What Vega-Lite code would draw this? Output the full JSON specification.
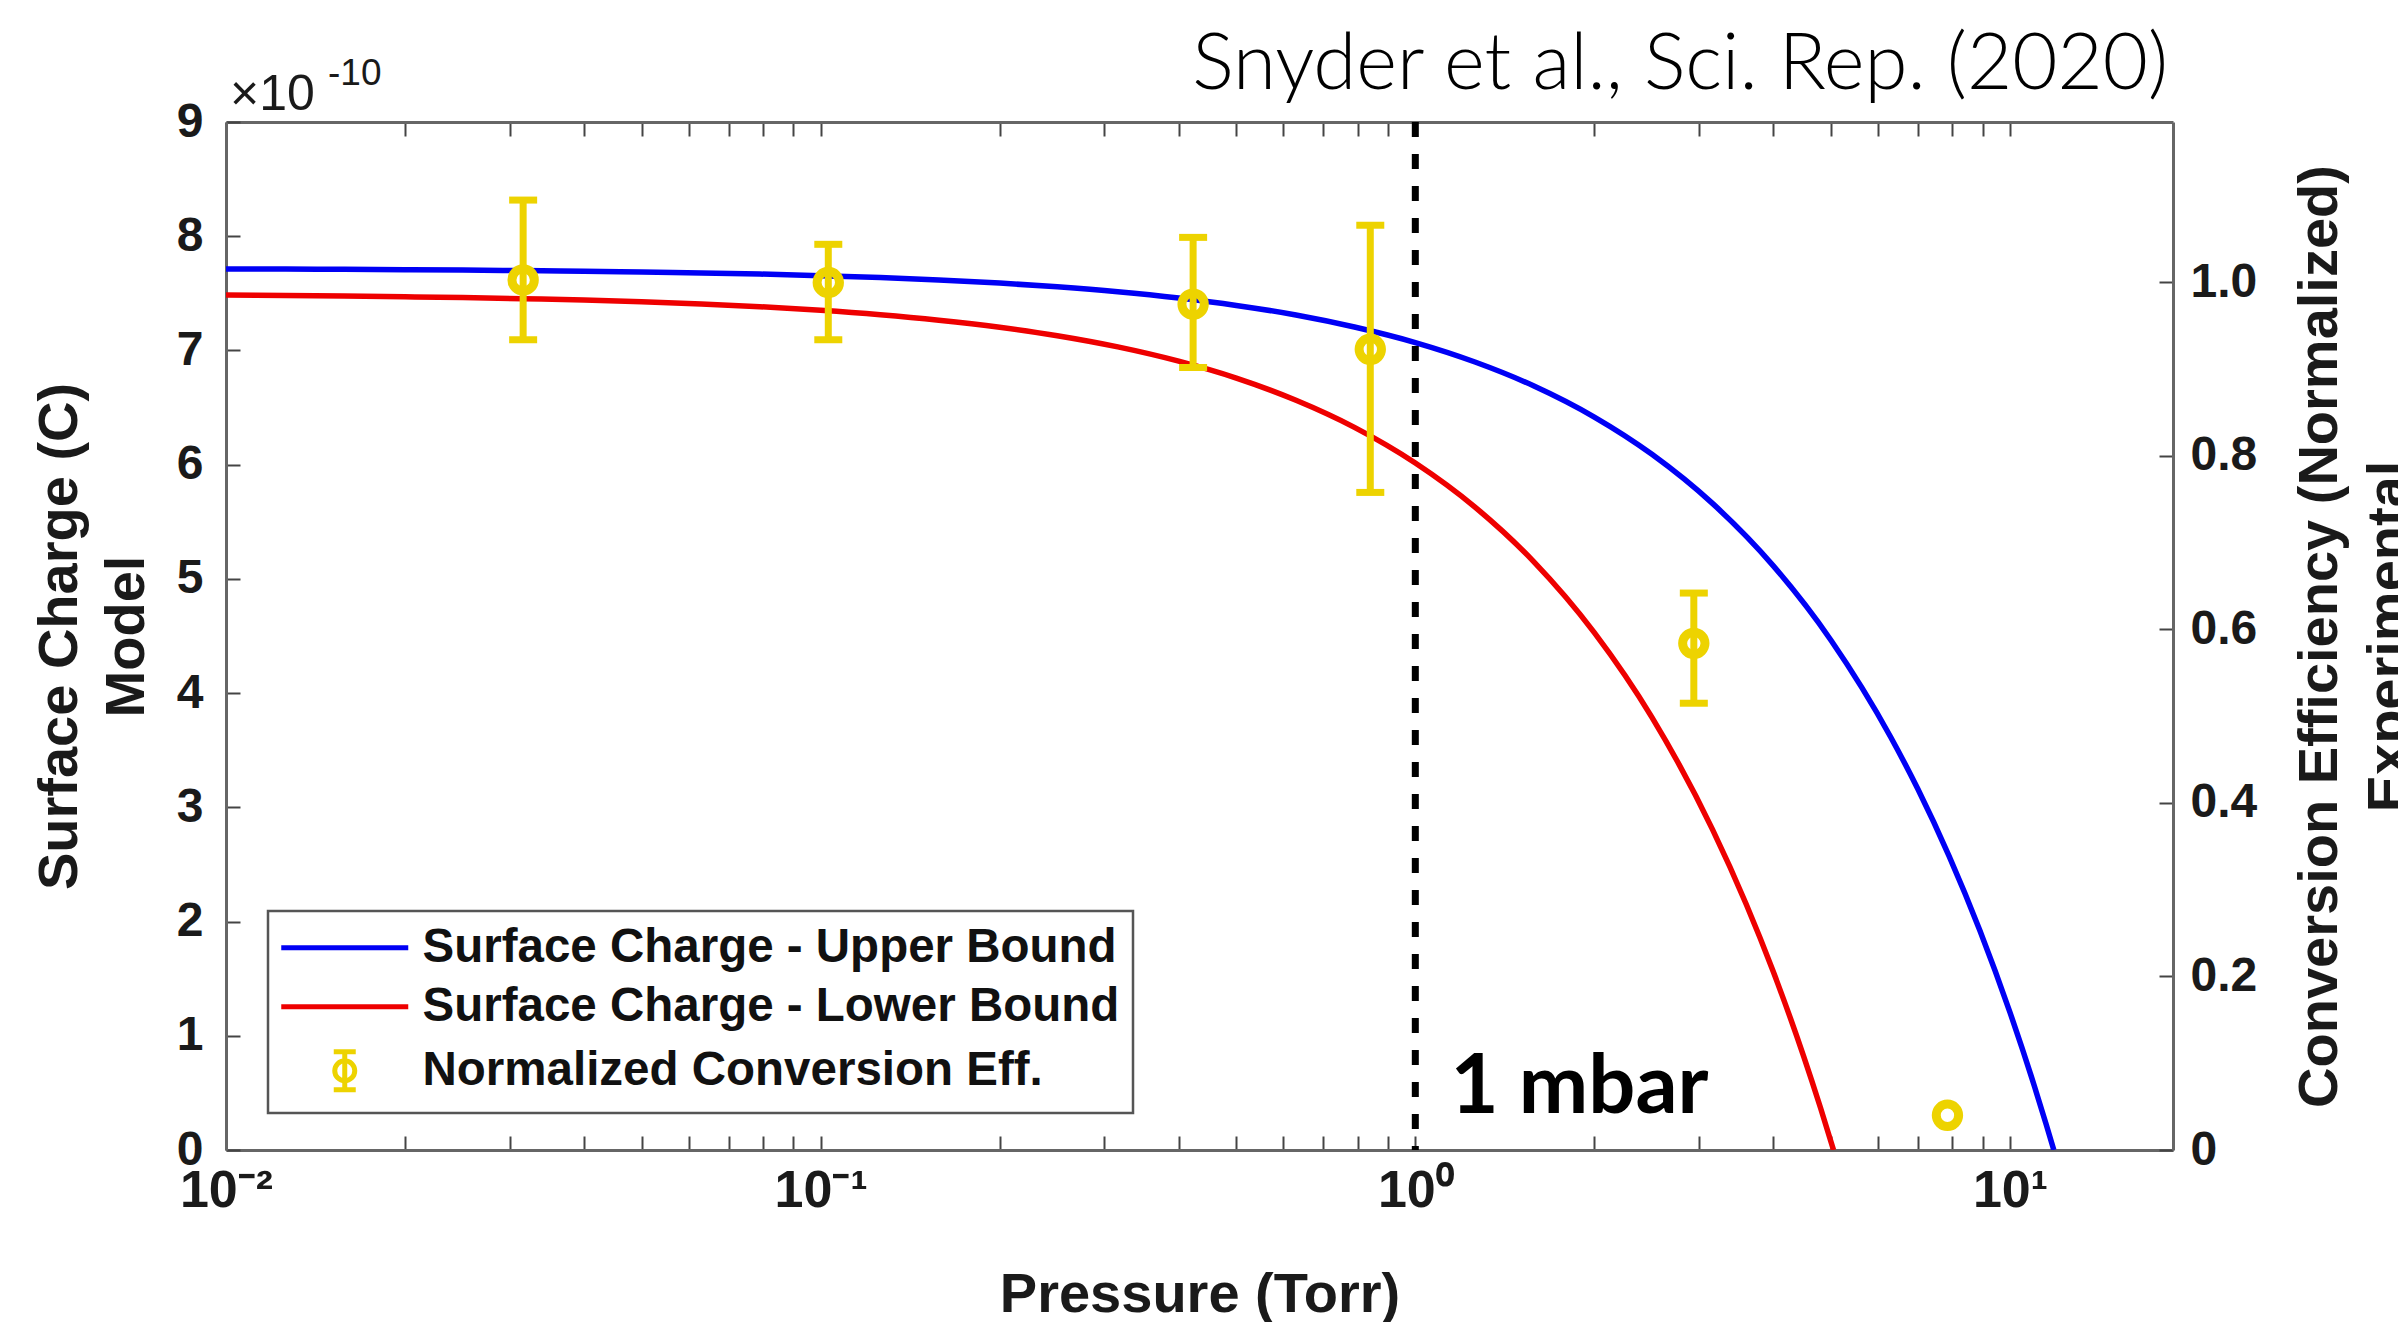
{
  "$schema": "https://vega.github.io/schema/vega-lite/v6.json",
  "width": 1947,
  "height": 1028,
  "autosize": {"type": "none"},
  "padding": {"left": 226, "top": 122, "right": 225, "bottom": 172},
  "background": "white",
  "title": {
    "text": "Snyder et al., Sci. Rep. (2020)",
    "anchor": "end",
    "frame": "group",
    "font": "Lato",
    "fontWeight": 300,
    "fontSize": 78,
    "color": "#000000",
    "offset": 20,
    "dx": -5,
    "dy": 70
  },
  "config": {
    "view": {"stroke": null},
    "axis": {
      "grid": false,
      "tickColor": "#444444",
      "tickWidth": 2,
      "domainColor": "#666666",
      "domainWidth": 3,
      "labelColor": "#1a1a1a",
      "titleColor": "#1a1a1a"
    }
  },
  "resolve": {"scale": {"y": "independent"}},
  "layer": [
    {
      "data": {
        "values": [
          {"p": 0.01, "q": 7.713, "s": "Surface Charge - Upper Bound"},
          {"p": 0.0126, "q": 7.712, "s": "Surface Charge - Upper Bound"},
          {"p": 0.0158, "q": 7.71, "s": "Surface Charge - Upper Bound"},
          {"p": 0.02, "q": 7.707, "s": "Surface Charge - Upper Bound"},
          {"p": 0.025, "q": 7.704, "s": "Surface Charge - Upper Bound"},
          {"p": 0.0316, "q": 7.699, "s": "Surface Charge - Upper Bound"},
          {"p": 0.04, "q": 7.694, "s": "Surface Charge - Upper Bound"},
          {"p": 0.05, "q": 7.687, "s": "Surface Charge - Upper Bound"},
          {"p": 0.063, "q": 7.679, "s": "Surface Charge - Upper Bound"},
          {"p": 0.079, "q": 7.669, "s": "Surface Charge - Upper Bound"},
          {"p": 0.1, "q": 7.655, "s": "Surface Charge - Upper Bound"},
          {"p": 0.126, "q": 7.638, "s": "Surface Charge - Upper Bound"},
          {"p": 0.158, "q": 7.617, "s": "Surface Charge - Upper Bound"},
          {"p": 0.2, "q": 7.59, "s": "Surface Charge - Upper Bound"},
          {"p": 0.25, "q": 7.557, "s": "Surface Charge - Upper Bound"},
          {"p": 0.316, "q": 7.514, "s": "Surface Charge - Upper Bound"},
          {"p": 0.4, "q": 7.459, "s": "Surface Charge - Upper Bound"},
          {"p": 0.5, "q": 7.394, "s": "Surface Charge - Upper Bound"},
          {"p": 0.63, "q": 7.31, "s": "Surface Charge - Upper Bound"},
          {"p": 0.79, "q": 7.205, "s": "Surface Charge - Upper Bound"},
          {"p": 1.0, "q": 7.069, "s": "Surface Charge - Upper Bound"},
          {"p": 1.26, "q": 6.899, "s": "Surface Charge - Upper Bound"},
          {"p": 1.58, "q": 6.691, "s": "Surface Charge - Upper Bound"},
          {"p": 2.0, "q": 6.417, "s": "Surface Charge - Upper Bound"},
          {"p": 2.5, "q": 6.091, "s": "Surface Charge - Upper Bound"},
          {"p": 3.16, "q": 5.661, "s": "Surface Charge - Upper Bound"},
          {"p": 4.0, "q": 5.114, "s": "Surface Charge - Upper Bound"},
          {"p": 5.0, "q": 4.463, "s": "Surface Charge - Upper Bound"},
          {"p": 6.3, "q": 3.616, "s": "Surface Charge - Upper Bound"},
          {"p": 7.0, "q": 3.16, "s": "Surface Charge - Upper Bound"},
          {"p": 7.9, "q": 2.573, "s": "Surface Charge - Upper Bound"},
          {"p": 8.9, "q": 1.922, "s": "Surface Charge - Upper Bound"},
          {"p": 10.0, "q": 1.205, "s": "Surface Charge - Upper Bound"},
          {"p": 11.0, "q": 0.554, "s": "Surface Charge - Upper Bound"},
          {"p": 11.5, "q": 0.228, "s": "Surface Charge - Upper Bound"},
          {"p": 11.85, "q": 0.0, "s": "Surface Charge - Upper Bound"},
          {"p": 0.01, "q": 7.485, "s": "Surface Charge - Lower Bound"},
          {"p": 0.0126, "q": 7.481, "s": "Surface Charge - Lower Bound"},
          {"p": 0.0158, "q": 7.477, "s": "Surface Charge - Lower Bound"},
          {"p": 0.02, "q": 7.47, "s": "Surface Charge - Lower Bound"},
          {"p": 0.025, "q": 7.463, "s": "Surface Charge - Lower Bound"},
          {"p": 0.0316, "q": 7.453, "s": "Surface Charge - Lower Bound"},
          {"p": 0.04, "q": 7.441, "s": "Surface Charge - Lower Bound"},
          {"p": 0.05, "q": 7.426, "s": "Surface Charge - Lower Bound"},
          {"p": 0.063, "q": 7.406, "s": "Surface Charge - Lower Bound"},
          {"p": 0.079, "q": 7.383, "s": "Surface Charge - Lower Bound"},
          {"p": 0.1, "q": 7.352, "s": "Surface Charge - Lower Bound"},
          {"p": 0.126, "q": 7.313, "s": "Surface Charge - Lower Bound"},
          {"p": 0.158, "q": 7.265, "s": "Surface Charge - Lower Bound"},
          {"p": 0.2, "q": 7.203, "s": "Surface Charge - Lower Bound"},
          {"p": 0.25, "q": 7.129, "s": "Surface Charge - Lower Bound"},
          {"p": 0.316, "q": 7.031, "s": "Surface Charge - Lower Bound"},
          {"p": 0.4, "q": 6.906, "s": "Surface Charge - Lower Bound"},
          {"p": 0.5, "q": 6.758, "s": "Surface Charge - Lower Bound"},
          {"p": 0.63, "q": 6.564, "s": "Surface Charge - Lower Bound"},
          {"p": 0.79, "q": 6.327, "s": "Surface Charge - Lower Bound"},
          {"p": 1.0, "q": 6.015, "s": "Surface Charge - Lower Bound"},
          {"p": 1.26, "q": 5.629, "s": "Surface Charge - Lower Bound"},
          {"p": 1.58, "q": 5.154, "s": "Surface Charge - Lower Bound"},
          {"p": 2.0, "q": 4.53, "s": "Surface Charge - Lower Bound"},
          {"p": 2.5, "q": 3.788, "s": "Surface Charge - Lower Bound"},
          {"p": 3.16, "q": 2.807, "s": "Surface Charge - Lower Bound"},
          {"p": 3.6, "q": 2.154, "s": "Surface Charge - Lower Bound"},
          {"p": 4.0, "q": 1.56, "s": "Surface Charge - Lower Bound"},
          {"p": 4.5, "q": 0.818, "s": "Surface Charge - Lower Bound"},
          {"p": 4.8, "q": 0.372, "s": "Surface Charge - Lower Bound"},
          {"p": 5.05, "q": 0.0, "s": "Surface Charge - Lower Bound"}
        ]
      },
      "layer": [
        {
          "mark": {"type": "line", "strokeWidth": 5.5, "clip": true, "interpolate": "monotone"},
          "encoding": {
            "x": {
              "field": "p",
              "type": "quantitative",
              "scale": {"type": "log", "domain": [0.01, 18.8], "nice": false},
              "axis": {
                "orient": "bottom",
                "values": [0.01, 0.02, 0.03, 0.04, 0.05, 0.06, 0.07, 0.08, 0.09, 0.1, 0.2, 0.3, 0.4, 0.5, 0.6, 0.7, 0.8, 0.9, 1, 2, 3, 4, 5, 6, 7, 8, 9, 10],
                "labelExpr": "datum.value == 0.01 ? '10⁻²' : datum.value == 0.1 ? '10⁻¹' : datum.value == 1 ? '10⁰' : datum.value == 10 ? '10¹' : ''",
                "labelFont": "Liberation Sans",
                "labelFontWeight": "bold",
                "labelFontSize": 52,
                "labelPadding": 29,
                "labelFlush": false,
                "labelOverlap": false,
                "tickSize": -14,
                "title": "Pressure (Torr)",
                "titleFont": "Liberation Sans",
                "titleFontWeight": "bold",
                "titleFontSize": 56,
                "titlePadding": 51
              }
            },
            "y": {
              "field": "q",
              "type": "quantitative",
              "scale": {"domain": [0, 9], "nice": false, "zero": false},
              "axis": {
                "orient": "left",
                "values": [0, 1, 2, 3, 4, 5, 6, 7, 8, 9],
                "format": "d",
                "labelFont": "Liberation Sans",
                "labelFontWeight": "bold",
                "labelFontSize": 48,
                "labelPadding": 37,
                "labelFlush": false,
                "tickSize": -14,
                "title": ["Surface Charge (C)", "Model"],
                "titleFont": "Liberation Sans",
                "titleFontWeight": "bold",
                "titleFontSize": 56,
                "titleLineHeight": 67,
                "titleAngle": 270,
                "titleBaseline": "bottom",
                "titlePadding": 21
              }
            },
            "color": {
              "field": "s",
              "type": "nominal",
              "scale": {
                "domain": ["Surface Charge - Upper Bound", "Surface Charge - Lower Bound", "Normalized Conversion Eff."],
                "range": ["#0000F5", "#EE0000", "#EDD300"]
              },
              "legend": {
                "title": null,
                "orient": "none",
                "legendX": 42,
                "legendY": 789,
                "direction": "vertical",
                "padding": 13,
                "rowPadding": 10,
                "symbolSize": 1600,
                "symbolStrokeWidth": 5,
                "symbolOffset": 40,
                "labelOffset": 54,
                "labelFont": "Liberation Sans",
                "labelFontWeight": "bold",
                "labelFontSize": 47.5,
                "labelColor": "#111111",
                "labelLimit": 0,
                "strokeColor": "#555555",
                "fillColor": "#ffffff",
                "encode": {
                  "legend": {"update": {"strokeWidth": {"value": 2.5}}},
                  "symbols": {
                    "update": {
                      "shape": {"signal": "datum.value == 'Normalized Conversion Eff.' ? 'M0,-0.95L0,0.95M-0.55,-0.95L0.55,-0.95M-0.55,0.95L0.55,0.95M0.5,0A0.5,0.5,0,1,1,-0.5,0A0.5,0.5,0,1,1,0.5,0' : 'M-3.175,0L3.175,0'"},
                      "fill": {"value": "transparent"},
                      "strokeWidth": {"value": 5}
                    }
                  }
                }
              }
            }
          }
        },
        {
          "data": {"values": [{"p": 1}]},
          "mark": {"type": "rule", "strokeDash": [15, 17], "strokeWidth": 7, "color": "#000000"},
          "encoding": {
            "x": {"field": "p", "type": "quantitative"}
          }
        },
        {
          "data": {"values": [{"p": 1.146, "q": 0.32, "label": "1 mbar"}]},
          "mark": {"type": "text", "font": "Lato", "fontWeight": "bold", "fontSize": 83, "align": "left", "baseline": "alphabetic", "color": "#000000"},
          "encoding": {
            "x": {"field": "p", "type": "quantitative"},
            "y": {"field": "q", "type": "quantitative"},
            "text": {"field": "label"}
          }
        },
        {
          "data": {"values": [{"p": 0.01, "q": 9, "label": "×10"}]},
          "mark": {"type": "text", "font": "Liberation Sans", "fontSize": 50, "align": "left", "baseline": "alphabetic", "dx": 4, "dy": -12, "color": "#1a1a1a"},
          "encoding": {
            "x": {"field": "p", "type": "quantitative"},
            "y": {"field": "q", "type": "quantitative"},
            "text": {"field": "label"}
          }
        },
        {
          "data": {"values": [{"p": 0.01, "q": 9, "label": "-10"}]},
          "mark": {"type": "text", "font": "Liberation Sans", "fontSize": 37, "align": "left", "baseline": "alphabetic", "dx": 102, "dy": -37, "color": "#1a1a1a"},
          "encoding": {
            "x": {"field": "p", "type": "quantitative"},
            "y": {"field": "q", "type": "quantitative"},
            "text": {"field": "label"}
          }
        }
      ]
    },
    {
      "data": {
        "values": [
          {"p": 0.0316, "v": 1.003, "lo": 0.934, "hi": 1.095},
          {"p": 0.103, "v": 1.0, "lo": 0.934, "hi": 1.044},
          {"p": 0.423, "v": 0.975, "lo": 0.902, "hi": 1.052},
          {"p": 0.84, "v": 0.923, "lo": 0.758, "hi": 1.066},
          {"p": 2.94, "v": 0.584, "lo": 0.515, "hi": 0.642},
          {"p": 7.85, "v": 0.04, "lo": 0.04, "hi": 0.04}
        ]
      },
      "layer": [
        {
          "mark": {"type": "rule", "color": "#EDD300", "strokeWidth": 7},
          "encoding": {
            "x": {
              "field": "p",
              "type": "quantitative",
              "axis": {
                "orient": "top",
                "values": [0.01, 0.02, 0.03, 0.04, 0.05, 0.06, 0.07, 0.08, 0.09, 0.1, 0.2, 0.3, 0.4, 0.5, 0.6, 0.7, 0.8, 0.9, 1, 2, 3, 4, 5, 6, 7, 8, 9, 10],
                "labels": false,
                "tickSize": -14,
                "title": null
              }
            },
            "y": {
              "field": "lo",
              "type": "quantitative",
              "scale": {"domain": [0, 1.185], "nice": false, "zero": false},
              "axis": {
                "orient": "right",
                "values": [0, 0.2, 0.4, 0.6, 0.8, 1.0],
                "labelExpr": "datum.value == 0 ? '0' : format(datum.value, '.1f')",
                "labelFont": "Liberation Sans",
                "labelFontWeight": "bold",
                "labelFontSize": 48,
                "labelPadding": 31,
                "labelFlush": false,
                "tickSize": -14,
                "title": ["Conversion Efficiency (Normalized)", "Experimental"],
                "titleFont": "Liberation Sans",
                "titleFontWeight": "bold",
                "titleFontSize": 56,
                "titleLineHeight": 69,
                "titleAngle": 270,
                "titleBaseline": "top",
                "titlePadding": -33
              }
            },
            "y2": {"field": "hi"}
          }
        },
        {
          "transform": [{"filter": "datum.hi > datum.lo"}],
          "mark": {"type": "tick", "color": "#EDD300", "thickness": 7, "size": 28, "orient": "horizontal", "opacity": 1},
          "encoding": {
            "x": {"field": "p", "type": "quantitative"},
            "y": {"field": "lo", "type": "quantitative"}
          }
        },
        {
          "transform": [{"filter": "datum.hi > datum.lo"}],
          "mark": {"type": "tick", "color": "#EDD300", "thickness": 7, "size": 28, "orient": "horizontal", "opacity": 1},
          "encoding": {
            "x": {"field": "p", "type": "quantitative"},
            "y": {"field": "hi", "type": "quantitative"}
          }
        },
        {
          "mark": {"type": "point", "shape": "circle", "filled": false, "size": 500, "strokeWidth": 9, "color": "#EDD300", "opacity": 1},
          "encoding": {
            "x": {"field": "p", "type": "quantitative"},
            "y": {"field": "v", "type": "quantitative"}
          }
        }
      ]
    }
  ]
}
